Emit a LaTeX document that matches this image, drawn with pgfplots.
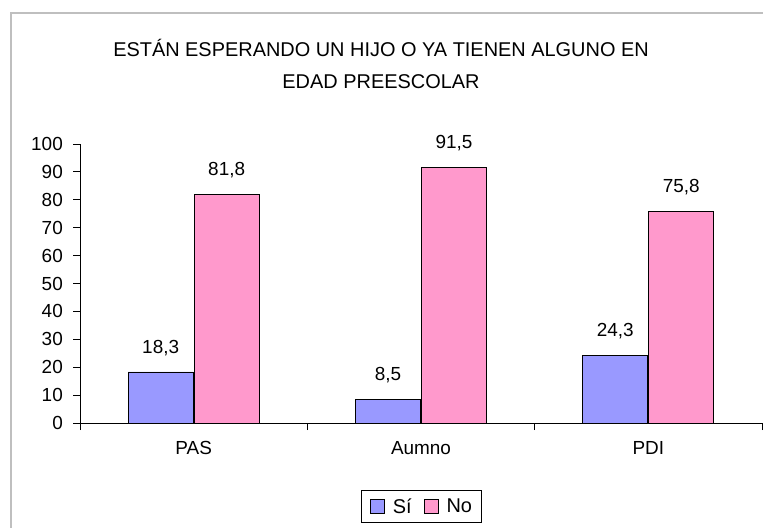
\documentclass[border=0pt]{standalone}
\usepackage{fontspec}
\setmainfont{Liberation Sans}
\usepackage{pgfplots}
\pgfplotsset{compat=1.18}
\definecolor{barblue}{HTML}{9999FF}
\definecolor{barpink}{HTML}{FF99CC}
\pgfplotsset{mylegend/.style={legend image code/.code={\draw[##1, line width=0.9bp] (0bp,-7bp) rectangle (14bp,7bp);}}}
\begin{document}
\begin{tikzpicture}[x=1bp,y=1bp]
\path[use as bounding box] (0,0) rectangle (763,-528);
\draw[black!25, line width=1.3bp] (11,-528) -- (11,-13) -- (763,-13);
\node[font=\fontsize{20}{32}\selectfont, align=center] at (381,-64) {ESTÁN ESPERANDO UN HIJO O YA TIENEN ALGUNO EN\\EDAD PREESCOLAR};
\begin{axis}[
  at={(80bp,-423bp)}, anchor=south west,
  scale only axis, width=682bp, height=279bp,
  ybar=1bp, bar width=65bp,
  ymin=0, ymax=100, ytick distance=10,
  xmin=0.5, xmax=3.5,
  axis x line*=bottom, axis y line*=left,
  axis line style={black, line width=0.9bp},
  tick align=outside, major tick length=7bp,
  tick style={black, line width=0.9bp},
  xtick={0.5,1.5,2.5,3.5}, xticklabels={},
  extra x ticks={1,2,3}, extra x tick labels={PAS,Aumno,PDI},
  extra x tick style={major tick length=0pt, xticklabel style={yshift=-15bp}},
  ticklabel style={font=\fontsize{19}{22}\selectfont},
  yticklabel style={inner sep=0pt, xshift=-10bp},
  /pgf/number format/assume math mode=true,
  nodes near coords={\pgfmathprintnumber[fixed,fixed zerofill,precision=1,use comma]{\pgfplotspointmeta}},
  every node near coord/.append style={font=\fontsize{19}{22}\selectfont, inner sep=0pt, anchor=south, yshift=16bp, black},
  legend style={at={(0.5,0)}, anchor=north, yshift=-67bp, legend columns=2, draw=black, line width=0.9bp,
    font=\fontsize{20}{22}\selectfont, inner xsep=9bp, inner ysep=8bp,
    nodes={inner sep=0pt},
    /tikz/every odd column/.append style={column sep=8bp},
    /tikz/every even column/.append style={column sep=12bp}},
]
\addplot[fill=barblue, draw=black, line width=0.9bp, mylegend] coordinates {(1,18.3) (2,8.5) (3,24.3)};
\addplot[fill=barpink, draw=black, line width=0.9bp, mylegend] coordinates {(1,81.8) (2,91.5) (3,75.8)};
\legend{Sí,No}
\end{axis}
\end{tikzpicture}
\end{document}
